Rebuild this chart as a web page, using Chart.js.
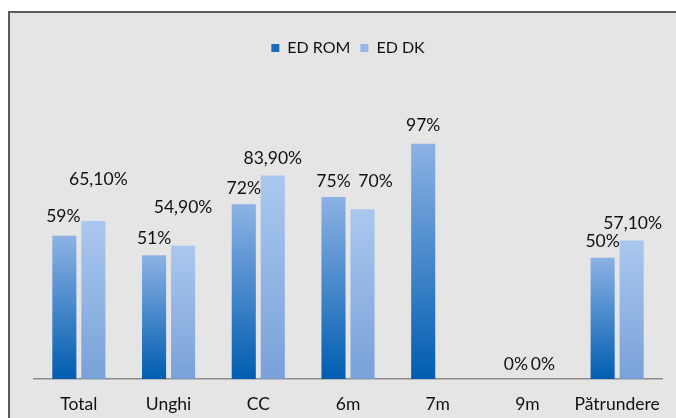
<!DOCTYPE html>
<html>
<head>
<meta charset="utf-8">
<script src="https://cdn.jsdelivr.net/npm/chart.js@4.4.0/dist/chart.umd.min.js"></script>
<style>
  html, body { margin: 0; padding: 0; background: #fff; overflow: hidden; }
  #wrap { position: relative; width: 676px; height: 418px; }
  #frame {
    position: absolute; left: 8px; top: 11px; width: 700px; height: 440px;
    background: #e5e5e5; border-left: 2px solid #5a5a5a; border-top: 2px solid #5a5a5a;
  }
  #c-chart { position: absolute; left: 0; top: 0; }
</style>
</head>
<body>
<div id="wrap">
  <div id="frame"></div>
  <canvas id="c-chart" width="676" height="418"></canvas>
</div>
<script>
// categories + series (percent values)
const categories = ['Total', 'Unghi', 'CC', '6m', '7m', '9m', 'Pătrundere'];
const edRom = [59, 51, 72, 75, 97, 0, 50];
const edDk = [65.1, 54.9, 83.9, 70, null, 0, 57.1];

// label nudges [dx, dy above bar top] - styling only
const romShift = [[-1, 19], [0, 17], [0, 16], [0, 16], [0, 18], [3, 15], [0, 16]];
const dkShift = [[5, 42], [0, 38], [0, 17], [13, 28], [0, 0], [1, 15], [1, 17]];

const fontFam = 'Lato, "Open Sans", sans-serif';

function fmtPct(v) {
    if (Number.isInteger(v)) return v + '%';
    return v.toFixed(2).replace('.', ',') + '%';
}

// per-bar vertical gradient, dark at the base
function barFill(bottomCol, topCol) {
    return (ctx) => {
        if (ctx.type !== 'data') return topCol;
        const chart = ctx.chart;
        if (!chart.chartArea || !chart.scales.y) return topCol;
        const v = ctx.parsed ? ctx.parsed.y : null;
        if (v === null || v === undefined) return topCol;
        const yTop = chart.scales.y.getPixelForValue(v);
        const yBase = chart.scales.y.getPixelForValue(0);
        if (Math.abs(yBase - yTop) < 1) return bottomCol;
        const g = chart.ctx.createLinearGradient(0, yBase, 0, yTop);
        g.addColorStop(0, bottomCol);
        g.addColorStop(1, topCol);
        return g;
    };
}

const valueLabels = {
    id: 'valueLabels',
    afterDatasetsDraw(chart) {
        const ctx = chart.ctx;
        ctx.save();
        ctx.font = '17.5px ' + fontFam;
        ctx.fillStyle = '#111';
        ctx.textAlign = 'center';
        ctx.textBaseline = 'middle';
        chart.data.datasets.forEach((ds, di) => {
            const meta = chart.getDatasetMeta(di);
            const shifts = di === 0 ? romShift : dkShift;
            meta.data.forEach((bar, i) => {
                const v = ds.data[i];
                if (v === null) return;
                const [dx, dy] = shifts[i];
                ctx.fillText(fmtPct(v), bar.x + dx, bar.y - dy);
            });
        });
        ctx.restore();
    }
};

const chart = new Chart(document.getElementById('c-chart'), {
    type: 'bar',
    data: {
        labels: categories,
        datasets: [
            { label: 'ED ROM', data: edRom, backgroundColor: barFill('#005db0', '#8db2e4'),
              barPercentage: 0.83, categoryPercentage: 0.647 },
            { label: 'ED DK', data: edDk, backgroundColor: barFill('#79a1d8', '#aac8ef'),
              barPercentage: 0.83, categoryPercentage: 0.647 }
        ]
    },
    options: {
        responsive: false, animation: false,
        layout: { padding: { top: 30, left: 34, right: 14, bottom: 0 } },
        scales: {
            x: {
                grid: { display: false, drawTicks: false },
                border: { display: true, color: '#8c8c8c', width: 1.5 },
                ticks: { color: '#111', padding: 15, maxRotation: 0, minRotation: 0, autoSkip: false,
                         font: { family: fontFam, size: 17.5 } },
                afterFit: (s) => { s.height = 39; }
            },
            y: { display: false, min: 0, max: 129 }
        },
        plugins: {
            legend: {
                position: 'top',
                labels: {
                    boxWidth: 8, boxHeight: 8, padding: 10, color: '#111',
                    font: { family: fontFam, size: 16 },
                    generateLabels: (c) => [
                        { text: 'ED ROM', fillStyle: '#1a6cbf', strokeStyle: '#1a6cbf', lineWidth: 0, datasetIndex: 0, fontColor: '#111' },
                        { text: 'ED DK', fillStyle: '#94b7e6', strokeStyle: '#94b7e6', lineWidth: 0, datasetIndex: 1, fontColor: '#111' }
                    ]
                }
            },
            tooltip: { enabled: false }
        }
    },
    plugins: [valueLabels]
});
</script>
</body>
</html>
